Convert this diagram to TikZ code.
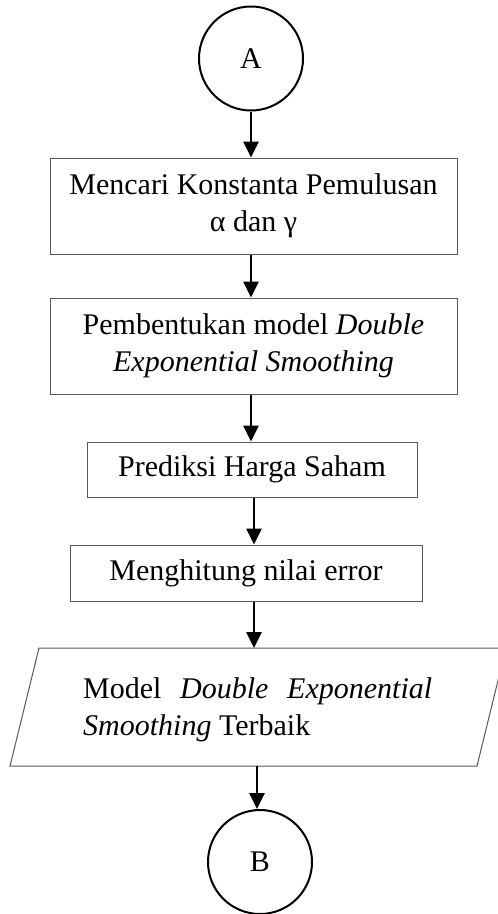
\documentclass[tikz,border=0pt]{standalone}
\usepackage{fontspec}
\setmainfont{Liberation Serif}
\usetikzlibrary{arrows.meta}
\begin{document}
\begin{tikzpicture}[x=1pt,y=-1pt,
  every node/.style={font=\fontsize{30}{37}\selectfont},
  conn/.style={draw=black, line width=2pt, circle, inner sep=0pt, minimum size=104pt},
  stepbox/.style={draw=black!65, line width=1pt, rectangle, inner sep=0pt, align=center},
  arr/.style={line width=2.6pt, -{Triangle[length=16pt,width=15pt]}}]
\useasboundingbox (0,0) rectangle (498,914);
\node[conn] (A) at (251,58.5) {A};
\node[stepbox, minimum width=407pt, minimum height=96pt] (box1) at (253.5,206)
  {Mencari Konstanta Pemulusan\\α dan γ};
\node[stepbox, minimum width=407pt, minimum height=96pt] (box2) at (253.5,346)
  {Pembentukan model \textit{Double}\\\textit{Exponential Smoothing}};
\node[stepbox, minimum width=330pt, minimum height=55pt] (box3) at (252,469.5)
  {Prediksi Harga Saham};
\node[stepbox, minimum width=352pt, minimum height=56pt] (box4) at (246,573)
  {Menghitung nilai error};
\coordinate (p1) at (39,648);
\coordinate (p2) at (506,648);
\coordinate (p3) at (477,766);
\coordinate (p4) at (10,766);
\draw[draw=black!65, line width=1pt] (p1) -- (p2) -- (p3) -- (p4) -- cycle;
\node[anchor=base west, inner sep=0pt] (para) at (83,698)
  {\parbox[t]{349pt}{Model \textit{Double} \textit{Exponential}\linebreak\textit{Smoothing} Terbaik}};
\coordinate (paraT) at (254,648);
\coordinate (paraB) at (257,766);
\coordinate (c2) at (254,0);
\node[conn] (B) at (260,862) {B};
\draw[arr] (A.south) -- (A.south |- box1.north);
\draw[arr] (box1.south -| A.south) -- (box2.north -| A.south);
\draw[arr] (box2.south -| A.south) -- (box3.north -| A.south);
\draw[arr] (box3.south -| c2) -- (box4.north -| c2);
\draw[arr] (box4.south -| c2) -- (paraT);
\draw[arr] (paraB) -- (B.north -| paraB);
\end{tikzpicture}
\end{document}
